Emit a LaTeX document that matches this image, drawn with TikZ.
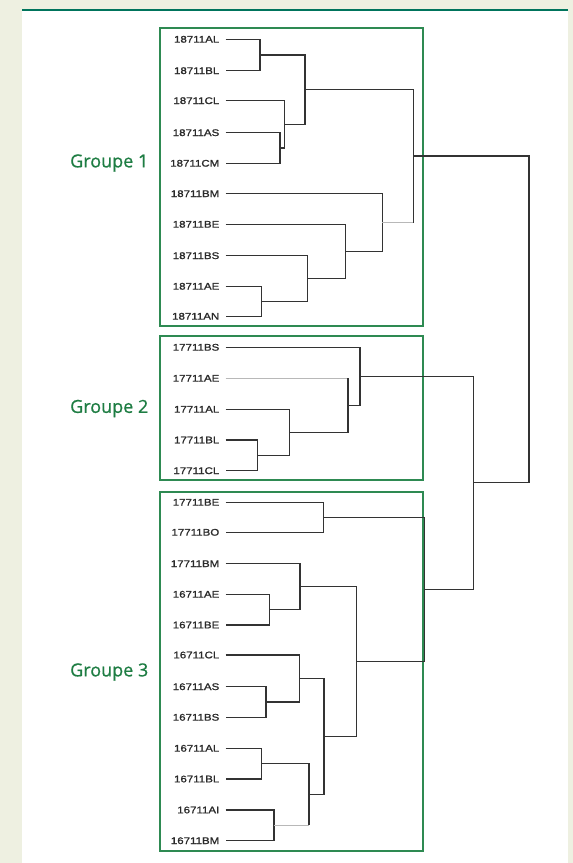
\documentclass[tikz,border=0pt]{standalone}
\usepackage{fontspec}
\newfontfamily\leaffont[FakeStretch=1.2,FakeBold=1.3]{Liberation Sans}
\newfontfamily\grpfont[FakeBold=0.8]{Open Sans}
\definecolor{cream}{HTML}{EEF0E1}
\definecolor{boxgreen}{HTML}{2E8A52}
\definecolor{topline}{HTML}{00745C}
\definecolor{grptext}{HTML}{1E7D43}
\definecolor{ln}{HTML}{333333}
\definecolor{txt}{HTML}{2A2A2A}
\definecolor{lite}{HTML}{B8B8B8}
\tikzset{
  leaf/.style={anchor=east, inner sep=0pt, font=\leaffont\fontsize{9.6}{10}\selectfont, text=txt},
  grp/.style={anchor=east, inner sep=0pt, font=\grpfont\fontsize{18}{20}\selectfont, text=grptext},
  br/.style={draw=ln, line width=1.1pt},
  litebr/.style={draw=lite, line width=1.1pt},
  grpbox/.style={draw=boxgreen, line width=1.7pt}
}
\begin{document}
\begin{tikzpicture}[x=1pt,y=-1pt]
\fill[cream] (0,0) rectangle (573,863);
\useasboundingbox (0,0) rectangle (573,863);
\fill[white] (22,9.3) rectangle (568,863);
\draw[topline, line width=1.8pt] (22,10.2) -- (568,10.2);
% group boxes
\draw[grpbox] (160,28.3) rectangle (423.3,325.7);
\draw[grpbox] (160,336) rectangle (423.3,480);
\draw[grpbox] (160,491.7) rectangle (423.3,851);
% group labels
\node[grp] (G1) at (148.5,163) {Groupe 1};
\node[grp] (G2) at (148.5,408.5) {Groupe 2};
\node[grp] (G3) at (148.5,672) {Groupe 3};
% leaves
\foreach \n/\t/\y in {a1/18711AL/39.3, a2/18711BL/70.7, a3/18711CL/100.7, a4/18711AS/132.7, a5/18711CM/163.3, a6/18711BM/193.7, a7/18711BE/224.3, a8/18711BS/255.7, a9/18711AE/286.3, a10/18711AN/316.3,
  b1/17711BS/347.3, b2/17711AE/378.3, b3/17711AL/409.3, b4/17711BL/440, b5/17711CL/470.7,
  c1/17711BE/502.3, c2/17711BO/532.3, c3/17711BM/563.7, c4/16711AE/594.3, c5/16711BE/625, c6/16711CL/655, c7/16711AS/686.7, c8/16711BS/717.3, c9/16711AL/748.3, c10/16711BL/779, c11/16711AI/810, c12/16711BM/840.7}{
  \node[leaf] (\n) at (219.5,\y) {\t};
  \coordinate (\n s) at ([xshift=6.2pt]\n.east);
}
% internal joins
\coordinate (g1a) at (260,55);
\coordinate (g1b) at (280,148);
\coordinate (g1c) at (284.3,124.3);
\coordinate (g1d) at (305,89.6);
\coordinate (g1e) at (261.7,301.3);
\coordinate (g1f) at (307.7,278.5);
\coordinate (g1g) at (345.7,251.4);
\coordinate (g1h) at (382.3,222.5);
\coordinate (g1i) at (413.3,156);
\coordinate (g2a) at (257.7,455.4);
\coordinate (g2b) at (289.3,432.3);
\coordinate (g2c) at (348,405.3);
\coordinate (g2d) at (360,376.3);
\coordinate (g3a) at (323.3,517.3);
\coordinate (g3b) at (269.3,609.7);
\coordinate (g3c) at (300,586.7);
\coordinate (g3d) at (266,702);
\coordinate (g3e) at (299.3,678.5);
\coordinate (g3f) at (261.7,763.7);
\coordinate (g3g) at (274,825.4);
\coordinate (g3h) at (309,794.5);
\coordinate (g3i) at (324,736.5);
\coordinate (g3j) at (356.7,661.6);
\coordinate (g3k) at (424.3,589.5);
\coordinate (g23) at (473.3,482.9);
\coordinate (root) at (529,319.5);
% group 1
\draw[br] (a1s) -| (g1a) |- (a2s);
\draw[br] (a4s) -| (g1b) |- (a5s);
\draw[br] (a3s) -| (g1c) |- (g1b);
\draw[br] (g1a) -| (g1d) |- (g1c);
\draw[br] (a9s) -| (g1e) |- (a10s);
\draw[br] (a8s) -| (g1f) |- (g1e);
\draw[br] (a7s) -| (g1g) |- (g1f);
\draw[br] (a6s) -| (g1h) |- (g1g);
\draw[br] (g1d) -| (g1i) -- (g1i |- g1h);
\draw[litebr] (g1h) -- (g1i |- g1h);
% group 2
\draw[br] (b4s) -| (g2a) |- (b5s);
\draw[br] (b3s) -| (g2b) |- (g2a);
\draw[litebr] (b2s) -- (g2c |- b2s);
\draw[br] (g2c |- b2s) -- (g2c) |- (g2b);
\draw[br] (b1s) -| (g2d) |- (g2c);
% group 3
\draw[br] (c1s) -| (g3a) |- (c2s);
\draw[br] (c4s) -| (g3b) |- (c5s);
\draw[br] (c3s) -| (g3c) |- (g3b);
\draw[br] (c7s) -| (g3d) |- (c8s);
\draw[br] (c6s) -| (g3e) |- (g3d);
\draw[br] (c9s) -| (g3f) |- (c10s);
\draw[br] (c11s) -| (g3g) |- (c12s);
\draw[br] (g3f) -| (g3h) -- (g3h |- g3g);
\draw[litebr] (g3g) -- (g3h |- g3g);
\draw[br] (g3e) -| (g3i) |- (g3h);
\draw[br] (g3c) -| (g3j) |- (g3i);
\draw[br] (g3a) -| (g3k) |- (g3j);
% top levels
\draw[br] (g2d) -| (g23) |- (g3k);
\draw[br] (g1i) -| (root) |- (g23);
\end{tikzpicture}
\end{document}
